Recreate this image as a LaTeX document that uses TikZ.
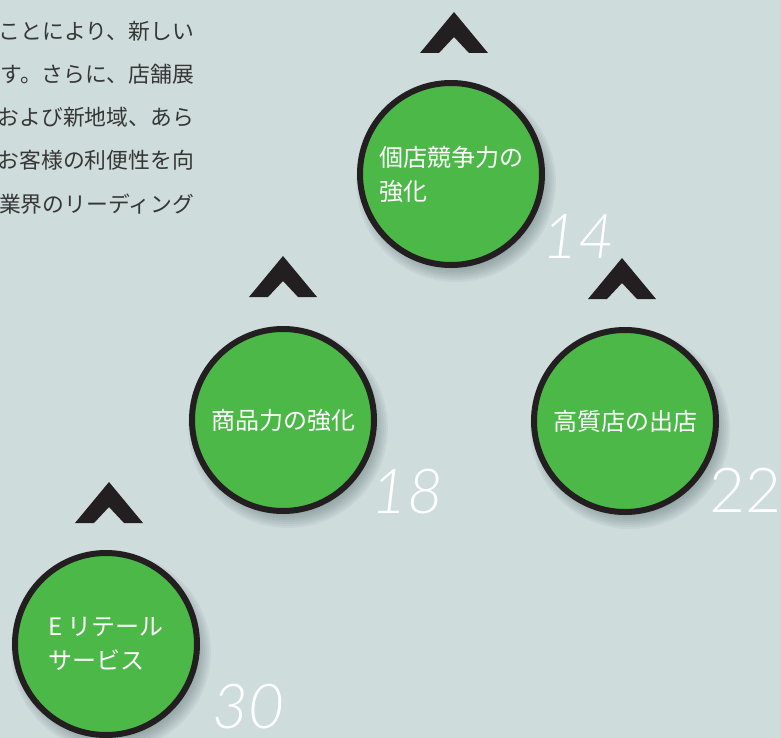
\documentclass[tikz,border=0pt]{standalone}
\usepackage{fontspec}
\newfontfamily\jp{Noto Sans CJK JP}
\newfontfamily\numfont{Lato Light Italic}
\newfontfamily\numupfont{Lato Light}
\definecolor{bg}{HTML}{CFDCDC}
\definecolor{grn}{HTML}{4CB848}
\definecolor{ink}{HTML}{231F20}
\definecolor{txt}{HTML}{363636}
\definecolor{shd}{HTML}{5A6F72}
\tikzset{
 chevron/.pic={\fill[ink] (0,0) -- (34,41) -- (15,41) -- (0,25) -- (-15,41) -- (-34,41) -- cycle;},
 disc/.style={circle, fill=grn, draw=ink, line width=6pt, minimum size=182pt, inner sep=0pt,
   text=white, font=\jp\fontsize{24}{34}\selectfont, align=left},
 num/.style={text=white, font=\numfont\fontsize{62}{62}\selectfont, anchor=base, inner sep=0pt},
 numup/.style={text=white, font=\numupfont\fontsize{62}{62}\selectfont, anchor=base west, inner sep=0pt},
 bodytext/.style={text=txt, font=\jp\fontsize{21.8}{24}\selectfont, anchor=base east, inner sep=0pt},
 softshadow/.style={shd, opacity=0.075}
}
\begin{document}
\begin{tikzpicture}[x=1pt,y=-1pt]
\clip (0,0) rectangle (781,738);
\fill[bg] (0,0) rectangle (781,738);
% body text (cut at left)
\node[bodytext] (t1) at (194,40) {ことにより、新しい};
\node[bodytext] (t2) at (194,83) {す。さらに、店舗展};
\node[bodytext] (t3) at (194,126) {および新地域、あら};
\node[bodytext] (t4) at (194,169) {お客様の利便性を向};
\node[bodytext] (t5) at (194,212) {業界のリーディング};
% centres
\coordinate (p1) at (451,174);
\coordinate (p2) at (283,420);
\coordinate (p3) at (625,421);
\coordinate (p4) at (106,644);
% shadows
\foreach \p in {p1,p2,p3,p4}{
  \foreach \r in {84,86,...,100}{
    \fill[softshadow] ([shift={(5,8)}]\p) circle (\r pt);
  }
}
% chevrons
\pic at (454,12) {chevron};
\pic at (283,256) {chevron};
\pic at (622,258) {chevron};
\pic at (109,482) {chevron};
% discs
\node[disc] (c1) at (p1) {個店競争力の\\強化};
\node[disc] (c2) at (p2) {商品力の強化};
\node[disc] (c3) at (p3) {高質店の出店};
\node[disc] (c4) at (p4) {E リテール\\サービス};
% numbers
\node[num] (n1) at (578,258) {14};
\node[num] (n2) at (407,513) {18};
\node[numup] (n3) at (709,512) {22};
\node[num] (n4) at (248,728) {30};
\end{tikzpicture}
\end{document}
